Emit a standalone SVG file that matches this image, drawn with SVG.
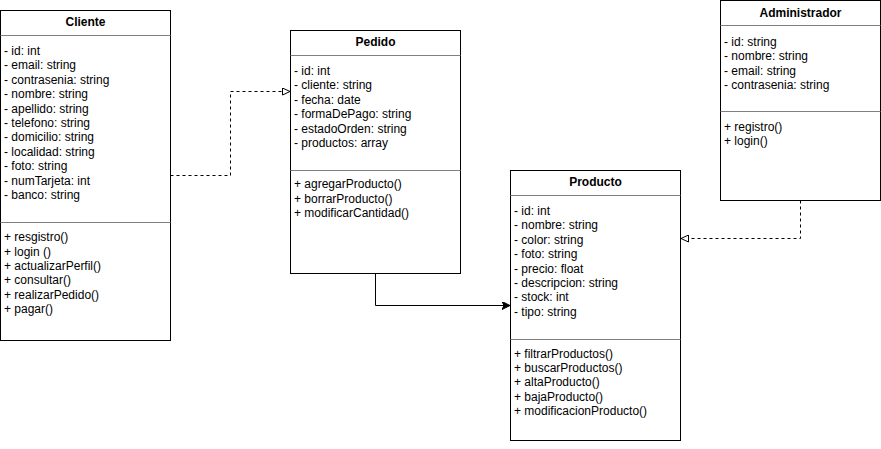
<svg xmlns="http://www.w3.org/2000/svg" width="881" height="449" viewBox="0 0 881 449">
  <style>
    .box { fill: #ffffff; stroke: #000000; stroke-width: 1; }
    .sep { stroke: #808080; stroke-width: 1; }
    .title { font-family: "Liberation Sans", Arial, sans-serif; font-size: 12px; font-weight: bold; text-anchor: middle; fill: #000000; }
    .row { font-family: "Liberation Sans", Arial, sans-serif; font-size: 12px; fill: #000000; }
    .dash { fill: none; stroke: #000000; stroke-width: 1; stroke-dasharray: 3 3; }
    .solid { fill: none; stroke: #000000; stroke-width: 1; }
  </style>
  <defs>
    <marker id="realize" viewBox="0 0 8 8" refX="8" refY="4" markerWidth="8" markerHeight="8" markerUnits="userSpaceOnUse" orient="auto">
      <path d="M0.5,0.5 L8,4 L0.5,7.5 Z" fill="#ffffff" stroke="#000000" stroke-width="1"/>
    </marker>
    <marker id="assoc" viewBox="0 0 8 8" refX="8" refY="4" markerWidth="8" markerHeight="8" markerUnits="userSpaceOnUse" orient="auto">
      <path d="M0,0 L8,4 L0,8 L2,4 Z" fill="#000000" stroke="#000000" stroke-width="1" stroke-linejoin="miter"/>
    </marker>
  </defs>

  <g id="connectors">
    <!-- Cliente uses Pedido -->
    <path class="dash" d="M170.5,175.5 H230.5 V91.5 H290" marker-end="url(#realize)"/>
    <!-- Administrador uses Producto -->
    <path class="dash" d="M800.5,200.5 V238.5 H681" marker-end="url(#realize)"/>
    <!-- Pedido to Producto -->
    <path class="solid" d="M375.5,273.5 V305.5 H510" marker-end="url(#assoc)"/>
  </g>

  <g id="cliente">
    <rect class="box" x="0.5" y="10.5" width="170" height="330"/>
    <line class="sep" x1="0.5" y1="35.5" x2="170.5" y2="35.5"/>
    <line class="sep" x1="0.5" y1="222.5" x2="170.5" y2="222.5"/>
    <text class="title" x="85.5" y="26">Cliente</text>
    <text class="row">
      <tspan x="4" y="55">- id: int</tspan>
      <tspan x="4" y="69.4">- email: string</tspan>
      <tspan x="4" y="83.8">- contrasenia: string</tspan>
      <tspan x="4" y="98.2">- nombre: string</tspan>
      <tspan x="4" y="112.6">- apellido: string</tspan>
      <tspan x="4" y="127">- telefono: string</tspan>
      <tspan x="4" y="141.4">- domicilio: string</tspan>
      <tspan x="4" y="155.8">- localidad: string</tspan>
      <tspan x="4" y="170.2">- foto: string</tspan>
      <tspan x="4" y="184.6">- numTarjeta: int</tspan>
      <tspan x="4" y="199">- banco: string</tspan>
    </text>
    <text class="row">
      <tspan x="4" y="241.3">+ resgistro()</tspan>
      <tspan x="4" y="255.6">+ login ()</tspan>
      <tspan x="4" y="269.9">+ actualizarPerfil()</tspan>
      <tspan x="4" y="284.2">+ consultar()</tspan>
      <tspan x="4" y="298.5">+ realizarPedido()</tspan>
      <tspan x="4" y="312.8">+ pagar()</tspan>
    </text>
  </g>

  <g id="pedido">
    <rect class="box" x="290.5" y="30.5" width="170" height="243"/>
    <line class="sep" x1="290.5" y1="55.5" x2="460.5" y2="55.5"/>
    <line class="sep" x1="290.5" y1="170.5" x2="460.5" y2="170.5"/>
    <text class="title" x="375.5" y="46">Pedido</text>
    <text class="row">
      <tspan x="294" y="75">- id: int</tspan>
      <tspan x="294" y="89.4">- cliente: string</tspan>
      <tspan x="294" y="103.8">- fecha: date</tspan>
      <tspan x="294" y="118.2">- formaDePago: string</tspan>
      <tspan x="294" y="132.6">- estadoOrden: string</tspan>
      <tspan x="294" y="147">- productos: array</tspan>
    </text>
    <text class="row">
      <tspan x="294" y="188.3">+ agregarProducto()</tspan>
      <tspan x="294" y="202.6">+ borrarProducto()</tspan>
      <tspan x="294" y="216.9">+ modificarCantidad()</tspan>
    </text>
  </g>

  <g id="producto">
    <rect class="box" x="510.5" y="170.5" width="170" height="270"/>
    <line class="sep" x1="510.5" y1="195.5" x2="680.5" y2="195.5"/>
    <line class="sep" x1="510.5" y1="339.5" x2="680.5" y2="339.5"/>
    <text class="title" x="595.5" y="186">Producto</text>
    <text class="row">
      <tspan x="514" y="215">- id: int</tspan>
      <tspan x="514" y="229.4">- nombre: string</tspan>
      <tspan x="514" y="243.8">- color: string</tspan>
      <tspan x="514" y="258.2">- foto: string</tspan>
      <tspan x="514" y="272.6">- precio: float</tspan>
      <tspan x="514" y="287">- descripcion: string</tspan>
      <tspan x="514" y="301.4">- stock: int</tspan>
      <tspan x="514" y="315.8">- tipo: string</tspan>
    </text>
    <text class="row">
      <tspan x="514" y="357.6">+ filtrarProductos()</tspan>
      <tspan x="514" y="371.9">+ buscarProductos()</tspan>
      <tspan x="514" y="386.2">+ altaProducto()</tspan>
      <tspan x="514" y="400.5">+ bajaProducto()</tspan>
      <tspan x="514" y="414.8">+ modificacionProducto()</tspan>
    </text>
  </g>

  <g id="administrador">
    <rect class="box" x="720.5" y="0.5" width="160" height="200"/>
    <line class="sep" x1="720.5" y1="25.5" x2="880.5" y2="25.5"/>
    <line class="sep" x1="720.5" y1="111.5" x2="880.5" y2="111.5"/>
    <text class="title" x="800.5" y="16.5">Administrador</text>
    <text class="row">
      <tspan x="724" y="46">- id: string</tspan>
      <tspan x="724" y="60.4">- nombre: string</tspan>
      <tspan x="724" y="74.8">- email: string</tspan>
      <tspan x="724" y="89.2">- contrasenia: string</tspan>
    </text>
    <text class="row">
      <tspan x="724" y="131">+ registro()</tspan>
      <tspan x="724" y="145.3">+ login()</tspan>
    </text>
  </g>
</svg>
